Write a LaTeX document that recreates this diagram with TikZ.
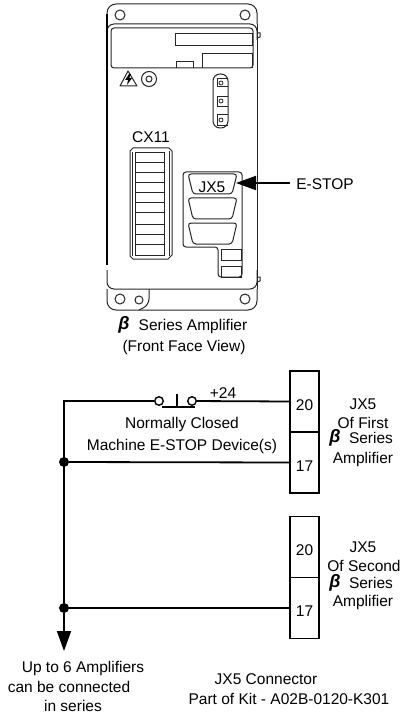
\documentclass[tikz,border=0pt]{standalone}
\usepackage{fontspec}
\setmainfont{Liberation Sans}
\usetikzlibrary{matrix,arrows.meta}
\newcommand{\lblfont}{\fontsize{15.5}{18}\selectfont}
\newcommand{\betafont}{\fontsize{18}{18}\bfseries\itshape\selectfont}
\tikzset{
  lbl/.style={font=\lblfont, inner sep=0pt},
  betalbl/.style={font=\betafont, inner sep=0pt},
  part/.style={line width=1pt, draw=black!85},
  wire/.style={line width=1.8pt},
  hole/.style={circle, draw=black!85, line width=1pt, inner sep=0pt},
  dot/.style={circle, fill=black, inner sep=0pt, minimum size=10pt},
  contact/.style={circle, draw, line width=1.4pt, inner sep=0pt, minimum size=8.5pt},
  pins/.style={matrix of nodes, row sep=-1.4pt, nodes={draw, line width=1.4pt, font=\lblfont,
      inner sep=0pt, minimum width=29pt, minimum height=61pt, text height=39pt, text depth=22pt}},
  bigtip/.style={-{Triangle[length=20pt,width=14pt]}},
}
\begin{document}
\begin{tikzpicture}[x=1pt, y=-1pt]
    \useasboundingbox (0,0) rectangle (417,719);
    \fill[white] (0,0) rectangle (417,719);

    \draw[part, rounded corners=9pt] (107,24) -- (107,4) -- (257,4) -- (257,24);
    \draw[part, rounded corners=7pt] (107,40) -- (107,24) -- (257,24) -- (257,40);
    \draw[part, rounded corners=7pt] (107,270) -- (107,289) -- (257,289) -- (257,270);
    \draw[part, rounded corners=9pt] (107,289) -- (107,310) -- (257,310) -- (257,289);
    \draw[part] (257,24) -- (257,289);
    \draw[line width=1.8pt] (107,14) -- (107,265);
    \draw[part, rounded corners=6pt] (149,289) -- (149,305) -- (139,310);
    \draw[part] (257,33) -- (260,33) -- (260,37) -- (257,38);
    \draw[part] (257,277) -- (260,277) -- (260,281) -- (257,282);

    \draw[part, rounded corners=3pt] (111,28) rectangle (253,68);
    \draw[part] (175,34) rectangle (252,46);
    \draw[part] (202,68) |- (252,54) -- (252,68);
    \draw[part] (176,68) |- (193,62) -- (193,68);

    \node[hole, minimum size=10pt] (tl) at (120,15) {};
    \node[hole, minimum size=10pt] (tr) at (245,15) {};
    \node[hole, minimum size=10pt] (bl) at (120,299) {};
    \node[hole, minimum size=8pt] (bm) at (139,300) {};
    \node[hole, minimum size=10pt] (br) at (245,299) {};

    \draw[part, line join=round] (128,71) -- (137,86) -- (120,86) -- cycle;
    \fill (129,74) -- (125,80) -- (128,80) -- (127,85) -- (132,78) -- (129,78) -- (131,74) -- cycle;
    \node[hole, minimum size=15pt] (gnd) at (149,79) {};
    \node[hole, minimum size=6pt] (gndin) at (149,79) {};

    \draw[part, rounded corners=7pt] (213,74) rectangle (228,128);
    \foreach \y/\h in {79/87, 97/107, 115/126} {
      \draw[part] (228,\y) -- (217,\y) -- (217,\h) -- (228,\h);
    }
    \foreach \y in {83,101,120} {
      \draw[line width=0.8pt, black!85] (221,\y) circle (2pt);
    }

    \node[lbl] (cx) at (151,137) {CX11};
    \draw[part, line join=round] (133,148) -- (169,148) -- (172,151) -- (172,255) -- (168,259)
      -- (133,259) -- (130,256) -- (130,151) -- cycle;
    \draw[part] (135,153) rectangle (164,255);
    \draw[part] (132,152) -- (132,256);
    \draw[part] (169,151) -- (169,256);
    \foreach \y in {163,173,183,193,203,213,224,234,244} {
      \draw[part] (135,\y) -- (164,\y);
    }

    \draw[part, rounded corners=3pt] (183,172) -- (242,172) -- (242,277) -- (218,277) -- (218,247)
      -- (183,247) -- cycle;
    \foreach \y/\h in {174/194, 198/219, 223/244} {
      \draw[part, rounded corners=3pt] (188,\y) -- (237,\y) -- (232,\h) -- (193,\h) -- cycle;
    }
    \draw[part] (221,249) rectangle (241,260);
    \draw[part] (221,266) rectangle (241,277);
    \node[lbl] (jx) at (212,187) {JX5};
    \coordinate (jxtip) at (236,183);
    \node[lbl] (estop) at (325,184) {E-STOP};
    \coordinate (estopend) at (290,183);
    \draw[wire, bigtip] (estopend) -- (jxtip);

    \node[betalbl] (bfront) at (124,325) {β};
    \node[lbl] (ampname) at (193,326) {Series Amplifier};
    \node[lbl] (ampview) at (184,347) {(Front Face View)};

    \matrix[pins] (first) at (304.5,432) {
      20 \\
      17 \\
    };
    \matrix[pins] (second) at (304.5,577.5) {
      20 \\
      17 \\
    };

    \node[contact] (swa) at (159,401) {};
    \node[contact] (swb) at (192,401) {};
    \coordinate (corner) at (64,401);
    \coordinate (stemtop) at (177,394);
    \coordinate (stembot) at (177,407);
    \coordinate (barl) at (162,407);
    \coordinate (barr) at (195,407);
    \node[dot] (ja) at (64,462) {};
    \node[dot] (jb) at (64,608) {};
    \coordinate (more) at (64,651);

    \draw[wire] (first-1-1.west) -- (swb);
    \draw[wire] (swa) -- (corner) -- (jb);
    \draw[wire] (ja) -- (first-2-1.west);
    \draw[wire] (jb) -- (second-2-1.west);
    \draw[wire, bigtip] (jb) -- (more);
    \draw[wire] (stemtop) -- (stembot);
    \draw[wire] (barl) -- (barr);

    \node[lbl] (plus) at (223,393) {+24};
    \node[lbl] (nc) at (182,424) {Normally Closed};
    \node[lbl] (dev) at (182,446) {Machine E-STOP Device(s)};

    \node[lbl] (fa) at (363,404) {JX5};
    \node[lbl] (fb) at (363,423) {Of First};
    \node[betalbl] (fc) at (335,438) {β};
    \node[lbl] (fd) at (371,438) {Series};
    \node[lbl] (fe) at (363,459) {Amplifier};

    \node[lbl] (sa) at (363,547) {JX5};
    \node[lbl] (sb) at (364,566) {Of Second};
    \node[betalbl] (sc) at (335,583) {β};
    \node[lbl] (sd) at (371,583) {Series};
    \node[lbl] (se) at (363,602) {Amplifier};

    \node[lbl] (upa) at (83,668) {Up to 6 Amplifiers};
    \node[lbl] (upb) at (69,687) {can be connected};
    \node[lbl] (upc) at (73,706) {in series};
    \node[lbl] (kita) at (266,679) {JX5 Connector};
    \node[lbl] (kitb) at (289,699) {Part of Kit - A02B-0120-K301};
\end{tikzpicture}
\end{document}
